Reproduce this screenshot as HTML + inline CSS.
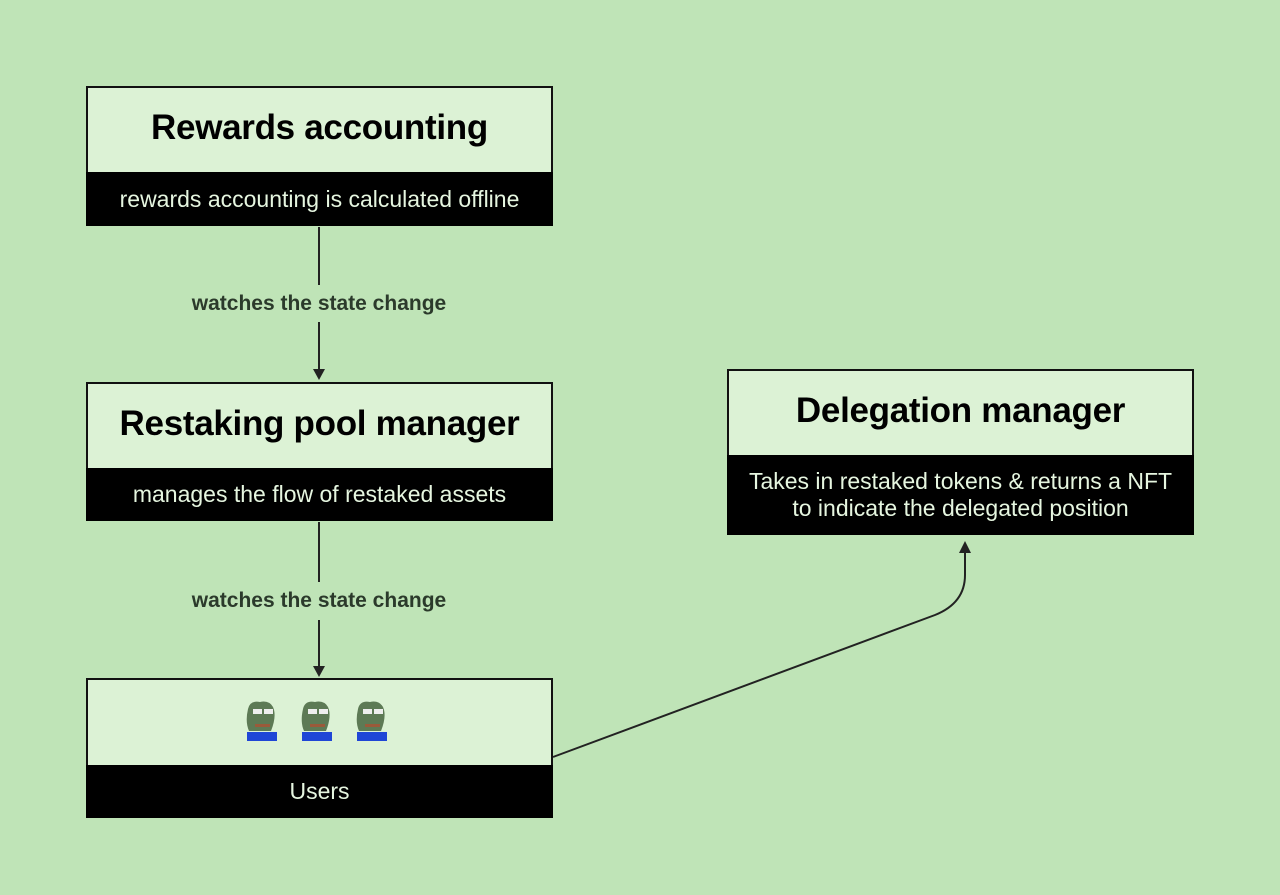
<!DOCTYPE html>
<html><head><meta charset="utf-8"><style>
body{margin:0;width:1280px;height:895px;background:#bfe4b7;position:relative;overflow:hidden;font-family:"Liberation Sans",sans-serif}
.box{position:absolute;border:2px solid #111;background:#dcf2d5;box-sizing:border-box}
.t{position:absolute;left:0;right:0;text-align:center;color:#000;font-weight:bold;letter-spacing:-0.3px}
.band{position:absolute;left:-2px;right:-2px;bottom:-2px;background:#000;color:#e6f6e0;text-align:center;font-size:23px;display:flex;align-items:center;justify-content:center;line-height:27px}
.lbl{position:absolute;color:#2b3a2b;font-weight:bold;font-size:21px;text-align:center;width:340px}
</style></head><body>
<svg width="1280" height="895" style="position:absolute;left:0;top:0">
<g stroke="#222" stroke-width="2" fill="none">
<line x1="319" y1="227" x2="319" y2="285"/>
<line x1="319" y1="322" x2="319" y2="370"/>
<line x1="319" y1="522" x2="319" y2="582"/>
<line x1="319" y1="620" x2="319" y2="667"/>
<path d="M553,757 L935,615 Q965,603 965,575 L965,553"/>
</g>
<g fill="#222">
<path d="M313,369 L325,369 L319,380 z"/>
<path d="M313,666 L325,666 L319,677 z"/>
<path d="M959,553 L971,553 L965,541 z"/>
</g>
</svg>
<div class="box" style="left:86px;top:86px;width:467px;height:140px">
<div class="t" style="top:20px;font-size:35px">Rewards accounting</div>
<div class="band" style="height:54px">rewards accounting is calculated offline</div></div>
<div class="lbl" style="left:149px;top:292px">watches the state change</div>
<div class="box" style="left:86px;top:382px;width:467px;height:139px">
<div class="t" style="top:20px;font-size:35px">Restaking pool manager</div>
<div class="band" style="height:53px">manages the flow of restaked assets</div></div>
<div class="lbl" style="left:149px;top:589px">watches the state change</div>
<div class="box" style="left:86px;top:678px;width:467px;height:140px">
<div class="band" style="height:53px">Users</div></div>
<div class="box" style="left:727px;top:369px;width:467px;height:166px">
<div class="t" style="top:20px;font-size:35px">Delegation manager</div>
<div class="band" style="height:80px">Takes in restaked tokens &amp; returns a NFT<br>to indicate the delegated position</div></div>
<svg width="170" height="44" style="position:absolute;left:245px;top:700px">
<g id="f"><path d="M3,9 Q5,0 15,2 Q24,0 28,7 Q32,16 26,31 L4,31 Q0,22 3,9z" fill="#5d7a55"/><rect x="8" y="9" width="9" height="5" fill="#eee"/><rect x="19" y="9" width="9" height="5" fill="#eee"/><rect x="10" y="24" width="15" height="3" fill="#9a5a3a"/><rect x="2" y="32" width="30" height="9" fill="#1f46d6"/></g>
<use href="#f" x="55"/><use href="#f" x="110"/>
</svg>
</body></html>
